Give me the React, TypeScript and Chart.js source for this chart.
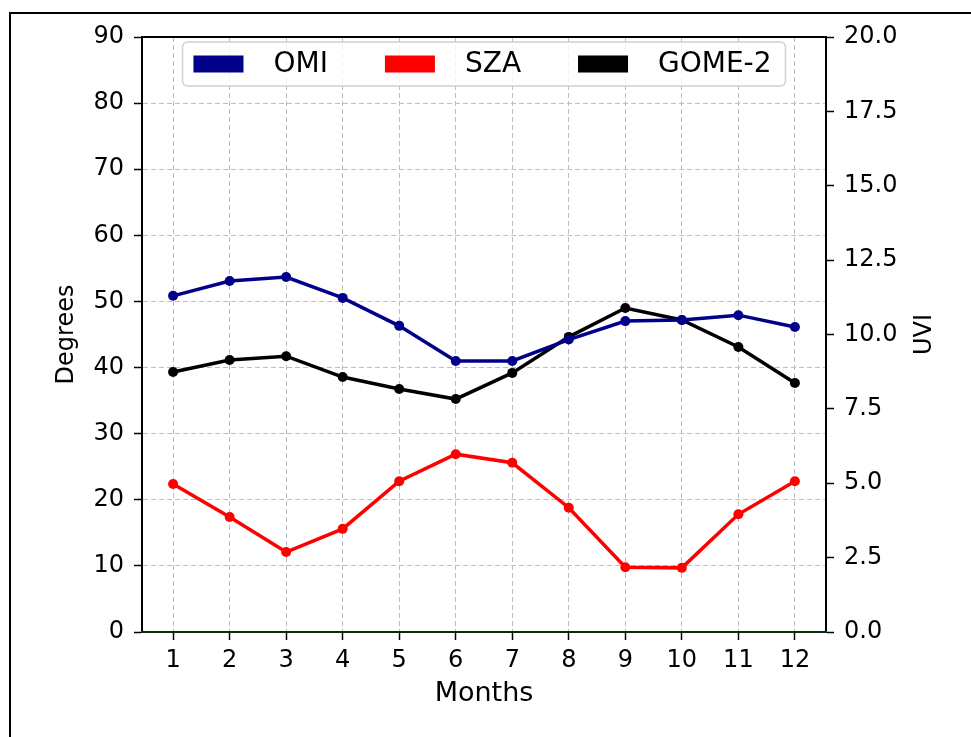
import React, { useEffect, useRef } from 'react';
import { Chart, registerables } from 'chart.js';

Chart.register(...registerables);

const months = [1, 2, 3, 4, 5, 6, 7, 8, 9, 10, 11, 12];
const omiUVI = [11.3, 11.8, 11.93, 11.23, 10.29, 9.11, 9.11, 9.83, 10.45, 10.49, 10.65, 10.25];
const szaDeg = [22.4, 17.4, 12.1, 15.6, 22.8, 26.9, 25.6, 18.8, 9.8, 9.7, 17.8, 22.8];
const gomeUVI = [8.74, 9.14, 9.27, 8.57, 8.17, 7.83, 8.71, 9.92, 10.89, 10.49, 9.58, 8.37];
const degreeTicks = [0, 10, 20, 30, 40, 50, 60, 70, 80, 90];
const uviTicks = [0, 2.5, 5, 7.5, 10, 12.5, 15, 17.5, 20];
const seriesLabels = ['OMI', 'SZA', 'GOME-2'];
const seriesColors = ['#00008b', '#ff0000', '#000000'];

const FONT = '"DejaVu Sans", sans-serif';
const TICK_SIZE = 24;
const XTITLE_SIZE = 27;
const YTITLE_SIZE = 24;
const LEGEND_SIZE = 28;
const GRID_COLOR = '#bdbdbd';
const GRID_DASH = [5, 3];

const framePlugin = {
  id: 'frame',
  beforeDraw(chart: any) {
    const ctx = chart.ctx;
    ctx.save();
    ctx.fillStyle = '#ffffff';
    ctx.fillRect(0, 0, chart.width, chart.height);
    ctx.strokeStyle = '#000000';
    ctx.lineWidth = 2;
    ctx.beginPath();
    ctx.moveTo(10, chart.height);
    ctx.lineTo(10, 13);
    ctx.lineTo(chart.width, 13);
    ctx.stroke();
    ctx.restore();
  },
  afterDraw(chart: any) {
    const { ctx, chartArea } = chart;
    ctx.save();
    ctx.strokeStyle = '#000000';
    ctx.lineWidth = 2;
    ctx.setLineDash([]);
    ctx.beginPath();
    ctx.moveTo(chartArea.left - 1, chartArea.top);
    ctx.lineTo(chartArea.right + 1, chartArea.top);
    ctx.moveTo(chartArea.left, chartArea.top);
    ctx.lineTo(chartArea.left, chartArea.bottom + 1);
    ctx.moveTo(chartArea.right, chartArea.top);
    ctx.lineTo(chartArea.right, chartArea.bottom + 1);
    ctx.stroke();
    ctx.strokeStyle = '#0d2a0d';
    ctx.beginPath();
    ctx.moveTo(chartArea.left - 1, chartArea.bottom);
    ctx.lineTo(chartArea.right + 1, chartArea.bottom);
    ctx.stroke();
    // right axis title (reads bottom to top)
    ctx.translate(925, (chartArea.top + chartArea.bottom) / 2);
    ctx.rotate(-Math.PI / 2);
    ctx.fillStyle = '#000000';
    ctx.font = `${YTITLE_SIZE}px ${FONT}`;
    ctx.textAlign = 'center';
    ctx.textBaseline = 'middle';
    ctx.fillText('UVI', 0, 0);
    ctx.restore();
  },
};

const legendPlugin = {
  id: 'insideLegend',
  afterDatasetsDraw(chart: any) {
    const { ctx, chartArea } = chart;
    ctx.save();
    ctx.font = `${LEGEND_SIZE}px ${FONT}`;
    const padL = 11;
    const padR = 14;
    const handle = 50;
    const handlePad = 30;
    const colSpace = 57;
    const widths = seriesLabels.map((l) => ctx.measureText(l).width);
    let total = padL + padR;
    widths.forEach((w, i) => {
      total += handle + handlePad + w + (i < widths.length - 1 ? colSpace : 0);
    });
    const cx = (chartArea.left + chartArea.right) / 2;
    const left = cx - total / 2;
    const top = chartArea.top + 5;
    const h = 44;
    const r = 5;
    ctx.beginPath();
    ctx.moveTo(left + r, top);
    ctx.lineTo(left + total - r, top);
    ctx.arcTo(left + total, top, left + total, top + r, r);
    ctx.lineTo(left + total, top + h - r);
    ctx.arcTo(left + total, top + h, left + total - r, top + h, r);
    ctx.lineTo(left + r, top + h);
    ctx.arcTo(left, top + h, left, top + h - r, r);
    ctx.lineTo(left, top + r);
    ctx.arcTo(left, top, left + r, top, r);
    ctx.closePath();
    ctx.fillStyle = 'rgba(255,255,255,0.8)';
    ctx.fill();
    ctx.strokeStyle = '#d0d0d0';
    ctx.lineWidth = 1.5;
    ctx.stroke();
    let x = left + padL;
    const cy = top + h / 2;
    seriesLabels.forEach((l, i) => {
      ctx.fillStyle = seriesColors[i];
      ctx.fillRect(x, cy - 8.5, handle, 17);
      x += handle + handlePad;
      ctx.fillStyle = '#000000';
      ctx.textAlign = 'left';
      ctx.textBaseline = 'middle';
      ctx.fillText(l, x, cy + 1);
      x += widths[i] + colSpace;
    });
    ctx.restore();
  },
};

const gridOpts = {
  color: GRID_COLOR,
  lineWidth: 1,
  borderDash: GRID_DASH,
  tickColor: '#000',
  tickLength: 8,
  tickWidth: 1.5,
  tickBorderDash: [],
};

export default function App() {
  const ref = useRef<HTMLCanvasElement | null>(null);

  useEffect(() => {
    if (!ref.current) return;
    const toPts = (vals: number[]) => months.map((m, i) => ({ x: m, y: vals[i] }));
    const ds = (i: number, vals: number[], axis: string) => ({
      label: seriesLabels[i],
      data: toPts(vals),
      yAxisID: axis,
      borderColor: seriesColors[i],
      backgroundColor: seriesColors[i],
      borderWidth: 3.5,
      pointRadius: 5,
      pointBorderWidth: 0,
      pointBackgroundColor: seriesColors[i],
      tension: 0,
    });
    const chart = new Chart(ref.current, {
      type: 'line',
      data: {
        datasets: [ds(0, omiUVI, 'yR'), ds(1, szaDeg, 'y'), ds(2, gomeUVI, 'yR')],
      },
      plugins: [framePlugin, legendPlugin],
      options: {
        animation: false,
        responsive: false,
        devicePixelRatio: 1,
        layout: { padding: { top: 37, left: 0, right: 0, bottom: 0 } },
        plugins: { legend: { display: false }, tooltip: { enabled: false } },
        scales: {
          x: {
            type: 'linear',
            min: 0.45,
            max: 12.55,
            afterBuildTicks: (axis: any) => {
              axis.ticks = months.map((v) => ({ value: v }));
            },
            afterFit: (s: any) => {
              s.height = 105;
            },
            ticks: {
              color: '#000',
              font: { family: FONT, size: TICK_SIZE },
              padding: 6,
              maxRotation: 0,
              autoSkip: false,
            },
            grid: gridOpts as any,
            border: { display: true, color: '#0d2a0d', width: 2, dash: GRID_DASH },
            title: {
              display: true,
              text: 'Months',
              color: '#000',
              font: { family: FONT, size: XTITLE_SIZE },
              padding: { top: 27, bottom: 27 },
            },
          },
          y: {
            type: 'linear',
            position: 'left',
            min: 0,
            max: 90,
            afterBuildTicks: (axis: any) => {
              axis.ticks = degreeTicks.map((v) => ({ value: v }));
            },
            afterFit: (s: any) => {
              s.width = 142;
            },
            ticks: {
              color: '#000',
              font: { family: FONT, size: TICK_SIZE },
              padding: 10,
            },
            grid: gridOpts as any,
            border: { display: true, color: '#000', width: 2, dash: GRID_DASH },
            title: {
              display: true,
              text: 'Degrees',
              color: '#000',
              font: { family: FONT, size: YTITLE_SIZE },
              padding: { top: 52, bottom: 52 },
            },
          },
          yR: {
            type: 'linear',
            position: 'right',
            min: 0,
            max: 20,
            afterBuildTicks: (axis: any) => {
              axis.ticks = uviTicks.map((v) => ({ value: v }));
            },
            afterFit: (s: any) => {
              s.width = 145;
            },
            ticks: {
              color: '#000',
              font: { family: FONT, size: TICK_SIZE },
              padding: 10,
              callback: (v: any) => Number(v).toFixed(1),
            },
            grid: {
              drawOnChartArea: false,
              tickColor: '#000',
              tickLength: 8,
              tickWidth: 1.5,
            },
            border: { color: '#000', width: 2 },
            title: { display: false },
          },
        },
      } as any,
    });
    return () => chart.destroy();
  }, []);

  return (
    <div style={{ position: 'absolute', left: 0, top: 0, width: 971, height: 737 }}>
      <canvas ref={ref} width={971} height={737} style={{ display: 'block' }} />
    </div>
  );
}
